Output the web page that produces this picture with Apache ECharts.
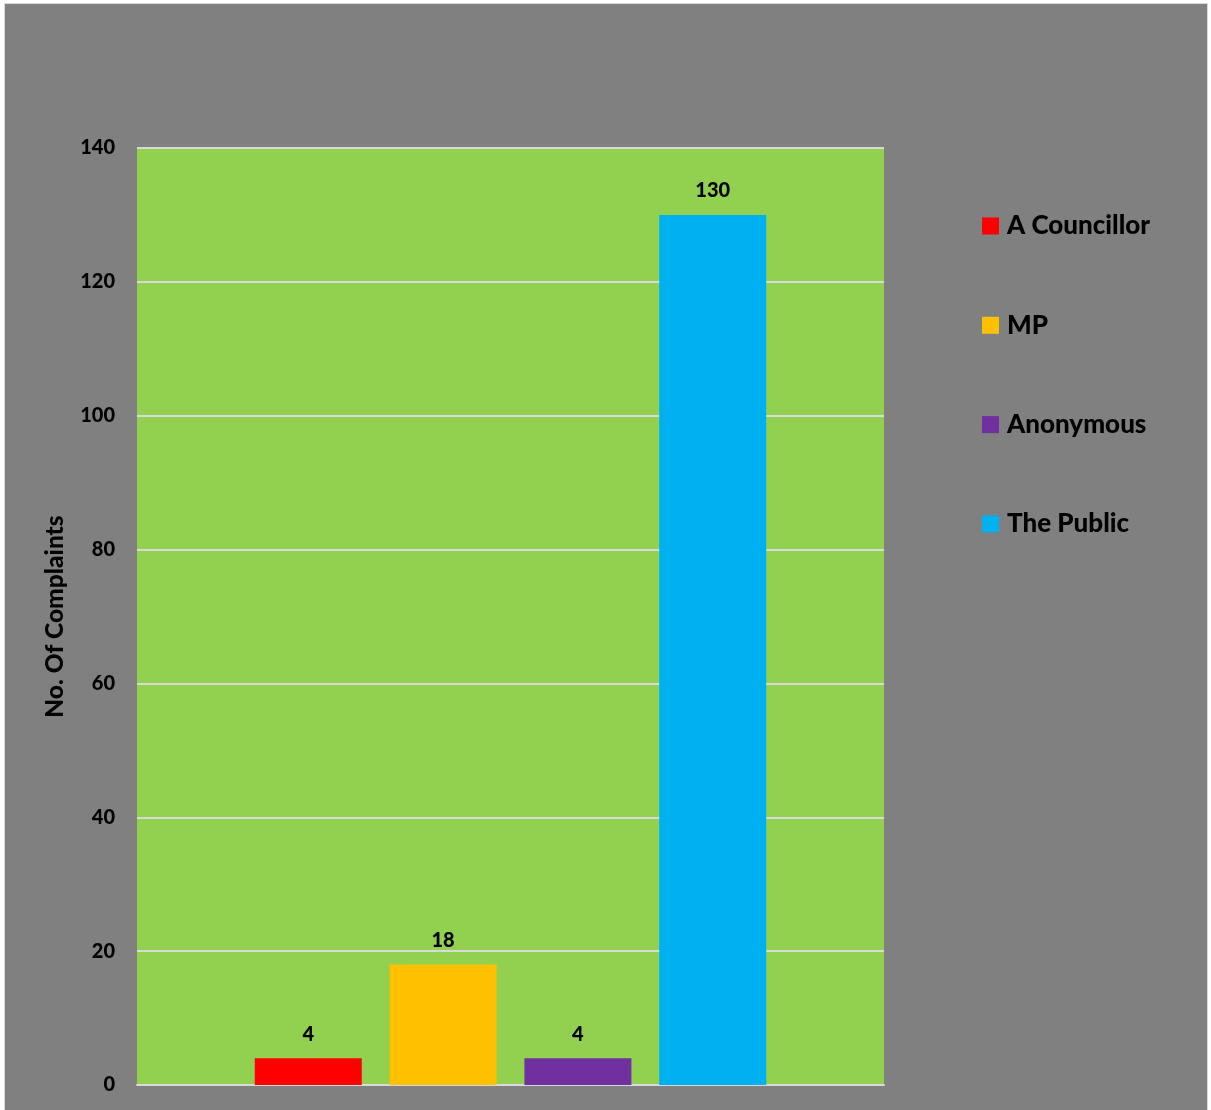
<!DOCTYPE html>
<html>
<head>
<meta charset="utf-8">
<script src="https://cdn.jsdelivr.net/npm/echarts@6/dist/echarts.min.js"></script>
<style>
html,body{margin:0;padding:0;background:#ffffff;width:1211px;height:1110px;overflow:hidden;}
#chart{position:absolute;left:4px;top:3px;width:1204px;height:1108px;box-sizing:border-box;border:1px solid #d9d9d9;background:#808080;}
</style>
</head>
<body>
<div id="chart"></div>
<script>
const categories = [''];
const seriesNames = ['A Councillor', 'MP', 'Anonymous', 'The Public'];
const seriesValues = [4, 18, 4, 130];
const seriesColors = ['#ff0000', '#ffc000', '#7030a0', '#00b0f0'];
const yTicks = {min: 0, max: 140, interval: 20};
const yTitle = 'No. Of Complaints';

const FONT = 'Lato, "Open Sans", sans-serif';
const W = 900;
const chart = echarts.init(document.getElementById('chart'), null, {renderer: 'canvas'});
const series = seriesNames.map((name, i) => ({
  name: name,
  type: 'bar',
  data: [seriesValues[i]],
  barWidth: 107,
  barGap: '26%',
  itemStyle: {color: seriesColors[i]},
  label: {
    show: true,
    position: 'top',
    distance: 14,
    color: '#000',
    fontFamily: FONT,
    fontWeight: W,
    fontSize: 20
  }
}));
chart.setOption({
  backgroundColor: '#808080',
  animation: false,
  grid: {
    left: 132, right: 323, top: 144, bottom: 25,
    show: true, backgroundColor: '#92d050', borderWidth: 0
  },
  legend: {
    orient: 'vertical',
    left: 972,
    top: 204,
    itemWidth: 17,
    itemHeight: 17,
    itemGap: 73.3,
    icon: 'rect',
    data: seriesNames,
    textStyle: {
      color: '#000',
      fontFamily: FONT,
      fontWeight: W,
      fontSize: 26,
      lineHeight: 26,
      padding: [0, 0, 0, 3]
    }
  },
  xAxis: {
    type: 'category',
    data: categories,
    axisLine: {show: true, lineStyle: {color: '#d9d9d9', width: 2}},
    axisTick: {show: false},
    axisLabel: {show: false}
  },
  yAxis: {
    type: 'value',
    min: yTicks.min,
    max: yTicks.max,
    interval: yTicks.interval,
    name: yTitle,
    nameLocation: 'middle',
    nameGap: 69,
    nameTextStyle: {color: '#000', fontFamily: FONT, fontWeight: W, fontSize: 24.5},
    axisLine: {show: false},
    axisTick: {show: false},
    axisLabel: {color: '#000', fontFamily: FONT, fontWeight: W, fontSize: 20, margin: 22},
    splitLine: {show: true, lineStyle: {color: '#d9d9d9', width: 2}}
  },
  series: series
});
</script>
</body>
</html>
